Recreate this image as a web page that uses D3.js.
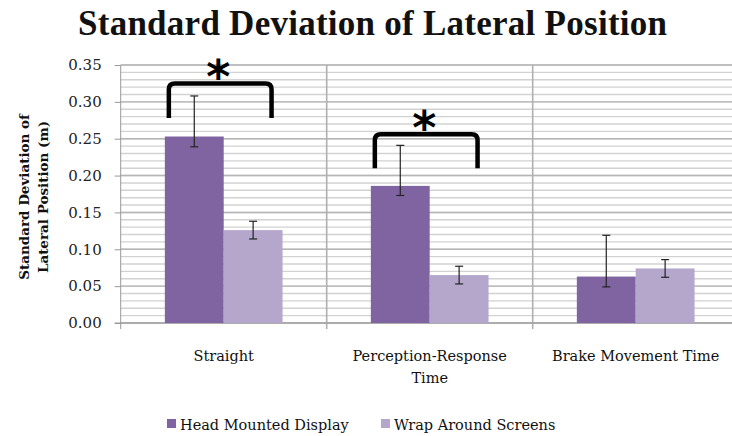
<!DOCTYPE html>
<html>
<head>
<meta charset="utf-8">
<script src="https://cdn.jsdelivr.net/npm/d3@7"></script>
<style>
  body { margin: 0; background: #fff; }
  svg { display: block; font-family: "DejaVu Serif", serif; }
</style>
</head>
<body>
<svg id="chart" width="732" height="436"></svg>
<script>
// categories and series
const categories = ["Straight", "Perception-Response Time", "Brake Movement Time"];
const categoryLines = [["Straight"], ["Perception-Response", "Time"], ["Brake Movement Time"]];
const series = ["Head Mounted Display", "Wrap Around Screens"];

// bar heights (m)
const hmdValues = [0.253, 0.186, 0.063];
const wasValues = [0.126, 0.065, 0.074];
// error bar ends (asymmetric)
const hmdErrHigh = [0.308, 0.241, 0.119];
const hmdErrLow  = [0.239, 0.173, 0.049];
const wasErrHigh = [0.138, 0.077, 0.086];
const wasErrLow  = [0.114, 0.053, 0.062];

// significance brackets: category index, bracket top, leg end
const sigCategory = [0, 1];
const sigTop = [0.325, 0.256];
const sigLeg = [0.278, 0.210];

const yTicks = [0, 0.05, 0.10, 0.15, 0.20, 0.25, 0.30, 0.35];

const colors = ["#8064A2", "#B4A7CB"];

const svg = d3.select("#chart");
const plotLeft = 120.7, plotRight = 738.7, plotTop = 65, plotBottom = 323;

const x = d3.scaleBand().domain(categories).range([plotLeft, plotRight]);
const xSub = d3.scaleBand().domain(series).range([0, x.bandwidth()]).paddingOuter(0.75);
const y = d3.scaleLinear().domain([0, 0.35]).range([plotBottom, plotTop]);

// title
svg.append("text")
    .attr("x", 78).attr("y", 35)
    .style("font-family", "'Liberation Serif', serif")
    .attr("font-size", 35)
    .attr("font-weight", "bold")
    .attr("fill", "#111")
    .attr("textLength", 589)
    .attr("lengthAdjust", "spacing")
    .text("Standard Deviation of Lateral Position");

// minor gridlines
const minor = d3.range(0, 0.3501, 0.01).map(v => +v.toFixed(2));
svg.append("g").selectAll("line")
    .data(minor)
    .enter().append("line")
        .attr("x1", plotLeft).attr("x2", plotRight)
        .attr("y1", d => y(d)).attr("y2", d => y(d))
        .attr("stroke", "#d2d2d2")
        .attr("stroke-width", 1.4);

// major gridlines
svg.append("g").selectAll("line")
    .data(yTicks)
    .enter().append("line")
        .attr("x1", plotLeft).attr("x2", plotRight)
        .attr("y1", d => y(d)).attr("y2", d => y(d))
        .attr("stroke", "#b5b5b5")
        .attr("stroke-width", 1.4);

// category separators
svg.append("g").selectAll("line")
    .data(categories.slice(1))
    .enter().append("line")
        .attr("x1", d => x(d)).attr("x2", d => x(d))
        .attr("y1", plotTop).attr("y2", plotBottom + 6)
        .attr("stroke", "#b0b0b0")
        .attr("stroke-width", 1.6);

// y axis
const yAxis = d3.axisLeft(y).tickValues(yTicks).tickFormat(d3.format(".2f")).tickSize(6).tickPadding(13);
const ya = svg.append("g").attr("transform", `translate(${plotLeft},0)`).call(yAxis);
ya.attr("font-family", null).attr("font-size", 15);
ya.select(".domain").remove();
ya.selectAll(".tick line").attr("stroke", "#999");
ya.selectAll("text").attr("fill", "#222");
svg.append("line")
    .attr("x1", plotLeft).attr("x2", plotLeft)
    .attr("y1", plotTop).attr("y2", plotBottom + 6)
    .attr("stroke", "#999");
svg.append("line")
    .attr("x1", plotLeft - 6).attr("x2", plotRight)
    .attr("y1", plotBottom).attr("y2", plotBottom)
    .attr("stroke", "#999");

// y axis title
const yt = svg.append("text")
    .attr("transform", "translate(29,197) rotate(-90)")
    .attr("text-anchor", "middle")
    .attr("font-size", 13.5)
    .attr("font-weight", "bold")
    .attr("fill", "#111");
yt.append("tspan").attr("x", 0).attr("dy", 0).text("Standard Deviation of");
yt.append("tspan").attr("x", 0).attr("dy", 19).text("Lateral Position (m)");

// bars
const barData = [];
categories.forEach((c, i) => {
    barData.push({c, s: series[0], v: hmdValues[i], hi: hmdErrHigh[i], lo: hmdErrLow[i], col: colors[0]});
    barData.push({c, s: series[1], v: wasValues[i], hi: wasErrHigh[i], lo: wasErrLow[i], col: colors[1]});
});

svg.append("g").selectAll("rect")
    .data(barData)
    .enter().append("rect")
        .attr("x", d => x(d.c) + xSub(d.s))
        .attr("y", d => y(d.v))
        .attr("width", xSub.bandwidth())
        .attr("height", d => y(0) - y(d.v))
        .attr("fill", d => d.col);

// error bars
const eb = svg.append("g").attr("stroke", "#222").attr("stroke-width", 1.2);
barData.forEach(d => {
    const cx = x(d.c) + xSub(d.s) + xSub.bandwidth() / 2;
    eb.append("line").attr("x1", cx).attr("x2", cx).attr("y1", y(d.hi)).attr("y2", y(d.lo));
    eb.append("line").attr("x1", cx - 4).attr("x2", cx + 4).attr("y1", y(d.hi)).attr("y2", y(d.hi));
    eb.append("line").attr("x1", cx - 4).attr("x2", cx + 4).attr("y1", y(d.lo)).attr("y2", y(d.lo));
});

// significance brackets
sigCategory.forEach((ci, k) => {
    const c = categories[ci];
    const x0 = x(c) + xSub(series[0]) + 4;
    const x1 = x(c) + xSub(series[1]) + xSub.bandwidth() - 11;
    const yt0 = y(sigTop[k]), yl = y(sigLeg[k]), r = 6;
    const p = `M${x0},${yl} L${x0},${yt0 + r} Q${x0},${yt0} ${x0 + r},${yt0} L${x1 - r},${yt0} Q${x1},${yt0} ${x1},${yt0 + r} L${x1},${yl}`;
    svg.append("path")
        .attr("d", p)
        .attr("fill", "none")
        .attr("stroke", "#000")
        .attr("stroke-width", 4.5);
    svg.append("text")
        .attr("x", (x0 + x1) / 2 - 2)
        .attr("y", yt0 + 10)
        .attr("text-anchor", "middle")
        .style("font-family", "'DejaVu Sans', sans-serif")
        .attr("font-weight", "bold")
        .attr("font-size", 46)
        .attr("fill", "#000")
        .text("*");
});

// category labels
const cl = svg.append("g");
categories.forEach((c, i) => {
    const t = cl.append("text")
        .attr("x", x(c) + x.bandwidth() / 2)
        .attr("y", 361)
        .attr("text-anchor", "middle")
        .attr("font-size", 14.5)
        .attr("fill", "#111");
    categoryLines[i].forEach((ln, j) => {
        t.append("tspan").attr("x", x(c) + x.bandwidth() / 2).attr("dy", j ? 22 : 0).text(ln);
    });
});

// legend
const legendX = [167, 381];
const lg = svg.append("g");
series.forEach((s, i) => {
    lg.append("rect")
        .attr("x", legendX[i]).attr("y", 419)
        .attr("width", 9).attr("height", 9)
        .attr("fill", colors[i]);
    lg.append("text")
        .attr("x", legendX[i] + 13).attr("y", 430)
        .attr("font-size", 14.5)
        .attr("fill", "#111")
        .text(s);
});
</script>
</body>
</html>
